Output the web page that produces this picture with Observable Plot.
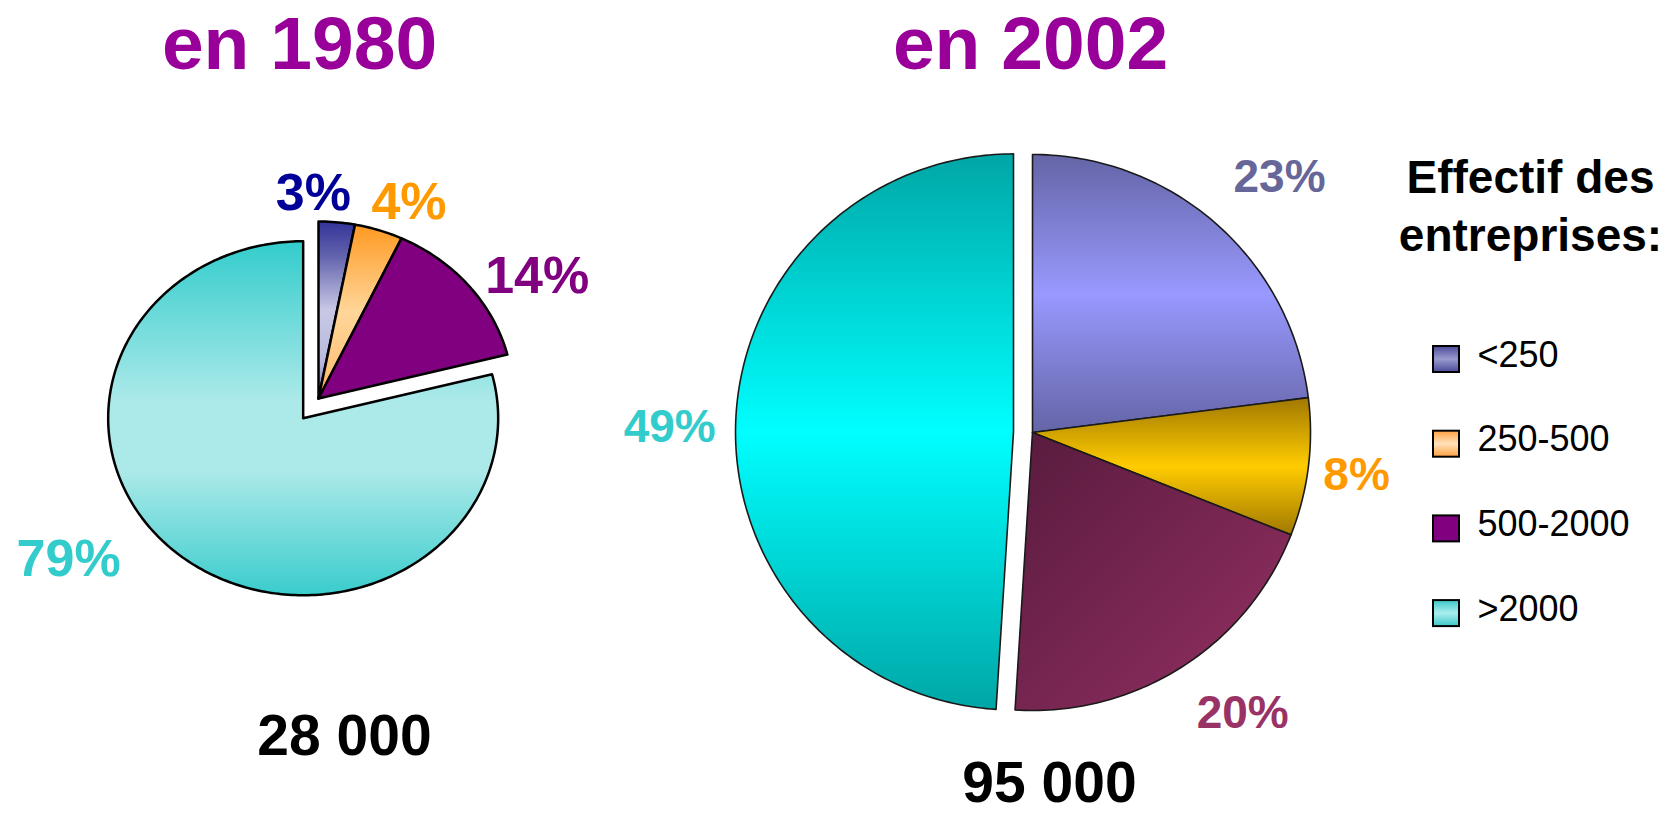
<!DOCTYPE html>
<html><head><meta charset="utf-8">
<script src="https://cdn.jsdelivr.net/npm/d3@7"></script>
<script src="https://cdn.jsdelivr.net/npm/@observablehq/plot@0.6"></script>
<style>body{margin:0;background:#fff;overflow:hidden}</style>
</head><body><div id="chart"></div>
<script>
// ---- data ----
const categories = ["<250", "250-500", "500-2000", ">2000"];
const years = ["en 1980", "en 2002"];
const share1980 = [3, 4, 14, 79];
const share2002 = [23, 8, 20, 49];
const totals = ["28 000", "95 000"];
const legendTitle = ["Effectif des", "entreprises:"];

// ---- style / layout ----
const W = 1671, H = 815;
const FONT = "'Liberation Sans', Arial, Helvetica, sans-serif";
const labelColors1980 = ["#000099", "#ff9900", "#800080", "#33cccc"];
const labelColors2002 = ["#666699", "#ff9900", "#993366", "#33cccc"];
const geom1980 = {cx: 318, cy: 398, rx: 195, ry: 177, explode: 3, explodeBy: 25, stroke: "#000", sw: 2.5,
  fills: ["url(#g80_0)", "url(#g80_1)", "#800080", "url(#g80_3)"],
  labelPlace: [[-6.7, 1.157], [4.7, 1.203], [8, 1.317], [18.7, 1.4425]], labelSize: 52};
const geom2002 = {cx: 1032, cy: 432, rx: 278, ry: 278, explode: 3, explodeBy: 19, stroke: "#1a1a1a", sw: 1.6,
  fills: ["url(#g02_0)", "url(#g02_1)", "url(#g02_2)", "url(#g02_3)"],
  labelPlace: [[2.7, 1.277], [0.4, 1.176], [-4.4, 1.262], [-1, 1.237]], labelSize: 46};
const titleLayout = [{x: 299, base: 68}, {x: 1030, base: 68}];
const totalLayout = [{x: 344, base: 754}, {x: 1049, base: 801}];
const legendLayout = {x: 1530, base0: 192, lineGap: 58, swX: 1433, sw: 26, y0: 359, step: 84.7, textX: 1477};
const legendFills = ["url(#lg_0)", "url(#lg_1)", "#800080", "url(#lg_3)"];

const defsHTML = `
<linearGradient id="g80_0" x1="0" y1="0" x2="0" y2="1">
 <stop offset="0" stop-color="#333399"/><stop offset="0.2" stop-color="#6464ae"/>
 <stop offset="0.5" stop-color="#c8c8e6"/><stop offset="0.8" stop-color="#b8b8dc"/><stop offset="1" stop-color="#6a6ab0"/></linearGradient>
<linearGradient id="g80_1" x1="0" y1="0" x2="0" y2="1">
 <stop offset="0" stop-color="#ff9922"/><stop offset="0.5" stop-color="#ffd699"/>
 <stop offset="0.85" stop-color="#ffc27a"/><stop offset="1" stop-color="#ff9933"/></linearGradient>
<linearGradient id="g80_3" x1="0" y1="0" x2="0" y2="1">
 <stop offset="0" stop-color="#33cccc"/><stop offset="0.45" stop-color="#ace9e9"/>
 <stop offset="0.65" stop-color="#ace9e9"/><stop offset="1" stop-color="#3acccc"/></linearGradient>
<linearGradient id="g02_0" x1="0" y1="0" x2="0" y2="1">
 <stop offset="0" stop-color="#6464a6"/><stop offset="0.5" stop-color="#9999ff"/><stop offset="1" stop-color="#6464a6"/></linearGradient>
<linearGradient id="g02_1" x1="0" y1="0" x2="0" y2="1">
 <stop offset="0" stop-color="#a07800"/><stop offset="0.5" stop-color="#ffcc00"/><stop offset="1" stop-color="#a07800"/></linearGradient>
<linearGradient id="g02_2" x1="0" y1="0" x2="1" y2="1">
 <stop offset="0" stop-color="#581b3e"/><stop offset="1" stop-color="#943062"/></linearGradient>
<linearGradient id="g02_3" x1="0" y1="0" x2="0" y2="1">
 <stop offset="0" stop-color="#00a6a6"/><stop offset="0.5" stop-color="#00ffff"/><stop offset="1" stop-color="#00a6a6"/></linearGradient>
<linearGradient id="lg_0" x1="0" y1="0" x2="0" y2="1">
 <stop offset="0" stop-color="#4a4a98"/><stop offset="0.5" stop-color="#9a9ad0"/><stop offset="1" stop-color="#4a4a98"/></linearGradient>
<linearGradient id="lg_1" x1="0" y1="0" x2="0" y2="1">
 <stop offset="0" stop-color="#ffa040"/><stop offset="0.5" stop-color="#ffe2bc"/><stop offset="1" stop-color="#ffa040"/></linearGradient>
<linearGradient id="lg_3" x1="0" y1="0" x2="0" y2="1">
 <stop offset="0" stop-color="#3cc8c8"/><stop offset="0.5" stop-color="#aaeeee"/><stop offset="1" stop-color="#3cc8c8"/></linearGradient>`;

function slices(shares, g) {
  const total = d3.sum(shares);
  let acc = 0;
  return shares.map((v, i) => {
    const a0 = acc / total * 2 * Math.PI; acc += v;
    const a1 = acc / total * 2 * Math.PI;
    const mid = (a0 + a1) / 2;
    const off = i === g.explode ? g.explodeBy : 0;
    const cx = g.cx + off * Math.sin(mid), cy = g.cy - off * Math.cos(mid);
    const n = Math.max(2, Math.ceil((a1 - a0) / (Math.PI / 180)));
    const pts = [{x: cx, y: cy}];
    for (let k = 0; k <= n; k++) {
      const a = a0 + (a1 - a0) * k / n;
      pts.push({x: cx + g.rx * Math.sin(a), y: cy - g.ry * Math.cos(a)});
    }
    pts.push({x: cx, y: cy});
    const [shift, f] = g.labelPlace[i];
    const la = mid + shift * Math.PI / 180;
    const label = {x: cx + f * g.rx * Math.sin(la), y: cy - f * g.ry * Math.cos(la), text: v + "%"};
    return {i, pts, label};
  });
}

function pieMarks(shares, g, colors) {
  const s = slices(shares, g);
  const marks = s.map(d => Plot.line(d.pts, {x: "x", y: "y", fill: g.fills[d.i], stroke: g.stroke,
    strokeWidth: g.sw, curve: "linear", strokeLinejoin: "round"}));
  marks.push(Plot.text(s.map(d => ({...d.label, c: colors[d.i]})), {x: "x", y: "y", text: "text",
    fill: "c", fontSize: g.labelSize, fontWeight: "bold", textAnchor: "middle", lineAnchor: "middle"}));
  return marks;
}

const titleData = years.map((t, i) => ({t, x: titleLayout[i].x, y: titleLayout[i].base - 0.32 * 75}));
const totalData = totals.map((t, i) => ({t, x: totalLayout[i].x, y: totalLayout[i].base - 0.32 * 57}));
const legTitleData = legendTitle.map((t, i) => ({t, x: legendLayout.x, y: legendLayout.base0 + i * legendLayout.lineGap - 0.32 * 46}));
const legItems = categories.map((c, i) => {
  const yc = legendLayout.y0 + i * legendLayout.step;
  return {c, f: legendFills[i], x1: legendLayout.swX, x2: legendLayout.swX + legendLayout.sw,
    y1: yc - legendLayout.sw / 2, y2: yc + legendLayout.sw / 2, tx: legendLayout.textX, ty: yc + 7 - 0.32 * 36};
});

const plot = Plot.plot({
  width: W, height: H, margin: 0,
  x: {domain: [0, W], range: [0, W], axis: null},
  y: {domain: [0, H], range: [0, H], axis: null},
  color: {type: "identity"},
  style: {background: "white", fontFamily: FONT, overflow: "visible"},
  marks: [
    ...pieMarks(share1980, geom1980, labelColors1980),
    ...pieMarks(share2002, geom2002, labelColors2002),
    Plot.text(titleData, {x: "x", y: "y", text: "t", fill: "#990099", fontSize: 75, fontWeight: "bold", textAnchor: "middle", lineAnchor: "middle"}),
    Plot.text(totalData, {x: "x", y: "y", text: "t", fill: "#000", fontSize: 57, fontWeight: "bold", textAnchor: "middle", lineAnchor: "middle"}),
    Plot.text(legTitleData, {x: "x", y: "y", text: "t", fill: "#000", fontSize: 46, fontWeight: "bold", textAnchor: "middle", lineAnchor: "middle"}),
    ...legItems.map(d => Plot.rect([d], {x1: "x1", x2: "x2", y1: "y1", y2: "y2", fill: d.f, stroke: "#000", strokeWidth: 2})),
    Plot.text(legItems, {x: "tx", y: "ty", text: "c", fill: "#000", fontSize: 36, textAnchor: "start", lineAnchor: "middle"})
  ]
});
const defs = document.createElementNS("http://www.w3.org/2000/svg", "defs");
defs.innerHTML = defsHTML;
plot.insertBefore(defs, plot.firstChild);
document.getElementById("chart").appendChild(plot);
</script>
</body></html>
